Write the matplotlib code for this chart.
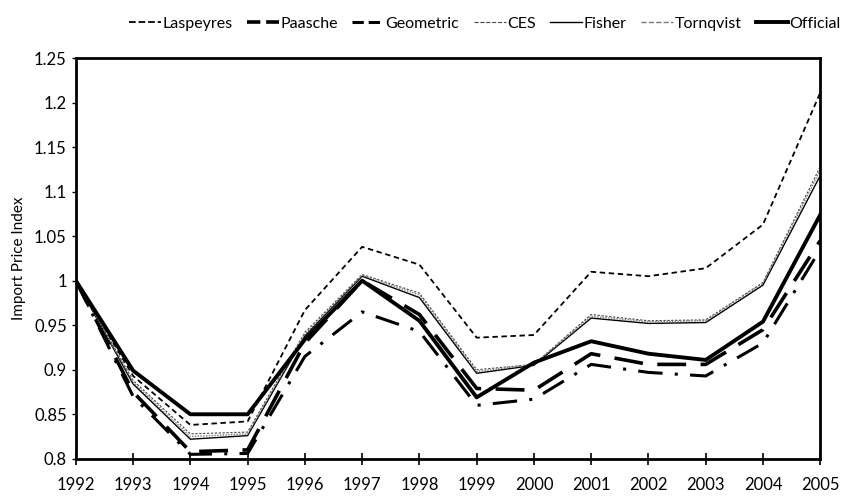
import matplotlib.pyplot as plt
from matplotlib.lines import Line2D

plt.rcParams['font.family'] = ['Lato', 'DejaVu Sans']

years = list(range(1992, 2006))

laspeyres = [1.0, 0.893, 0.838, 0.842, 0.967, 1.038, 1.018, 0.936, 0.939, 1.010, 1.005, 1.014, 1.063, 1.211]
paasche = [1.0, 0.875, 0.808, 0.810, 0.930, 1.000, 0.962, 0.879, 0.877, 0.918, 0.906, 0.906, 0.945, 1.045]
geometric = [1.0, 0.870, 0.805, 0.806, 0.915, 0.965, 0.943, 0.860, 0.867, 0.906, 0.897, 0.893, 0.930, 1.035]
ces = [1.0, 0.888, 0.828, 0.830, 0.942, 1.007, 0.986, 0.900, 0.906, 0.962, 0.955, 0.956, 0.998, 1.128]
fisher = [1.0, 0.884, 0.822, 0.826, 0.938, 1.005, 0.981, 0.896, 0.905, 0.958, 0.952, 0.953, 0.995, 1.118]
tornqvist = [1.0, 0.886, 0.825, 0.828, 0.940, 1.006, 0.984, 0.898, 0.906, 0.960, 0.954, 0.955, 0.997, 1.124]
official = [1.0, 0.899, 0.850, 0.850, 0.934, 1.0, 0.955, 0.869, 0.908, 0.932, 0.918, 0.911, 0.954, 1.074]

fig = plt.figure(figsize=(8.43, 4.96), dpi=100)
ax = fig.add_axes([0.090, 0.075, 0.883, 0.808])

ax.plot(years, laspeyres, color="black", lw=1.3, ls=(0, (3, 2)), label="Laspeyres")
ax.plot(years, paasche, color="black", lw=2.6, ls=(0, (8, 4)), label="Paasche")
ax.plot(years, geometric, color="black", lw=2.2, ls=(0, (8, 4, 1, 4)), label="Geometric")
ax.plot(years, ces, color="#444444", lw=0.8, ls=(0, (2, 1.5)), label="CES")
ax.plot(years, fisher, color="black", lw=1.0, label="Fisher")
ax.plot(years, tornqvist, color="#777777", lw=1.0, ls=(0, (1, 1)), label="Tornqvist")
ax.plot(years, official, color="black", lw=2.8, label="Official")

ax.set_xlim(1992, 2005)
ax.set_ylim(0.8, 1.25)
ax.set_xticks(years)
ax.set_yticks([0.8, 0.85, 0.9, 0.95, 1.0, 1.05, 1.1, 1.15, 1.2, 1.25])
ax.set_yticklabels(["0.8", "0.85", "0.9", "0.95", "1", "1.05", "1.1", "1.15", "1.2", "1.25"])
ax.tick_params(axis="x", direction="inout", length=8, width=1.2, labelsize=12, pad=9)
ax.tick_params(axis="y", direction="out", length=3, width=1, labelsize=12)
for s in ax.spines.values():
    s.set_linewidth(2)
ax.set_ylabel("Import Price Index", fontsize=11, labelpad=6)

handles = [Line2D([], [], color=l.get_color(), lw=l.get_linewidth(), ls=l.get_linestyle())
           for l in ax.get_lines()]
fig.legend(handles, [l.get_label() for l in ax.get_lines()], loc="upper center",
           bbox_to_anchor=(0.575, 0.995), ncol=7, frameon=False, fontsize=11.5,
           handlelength=2.0, handletextpad=0.1, columnspacing=0.9)

fig.savefig("out.png", dpi=100)
